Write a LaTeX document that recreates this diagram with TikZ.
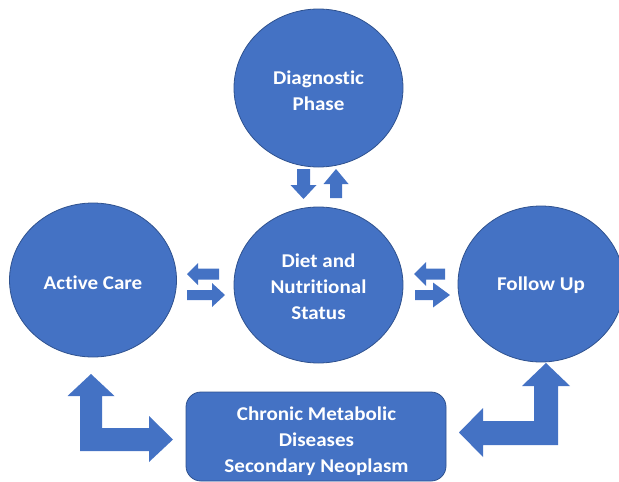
\documentclass[tikz,border=0pt]{standalone}
\usepackage{fontspec}
\setmainfont{Carlito}[FakeStretch=1.08, Ligatures=NoCommon]
\usetikzlibrary{shapes.geometric}
\definecolor{officeblue}{HTML}{4472C4}
\definecolor{officeedge}{HTML}{2F528F}
\tikzset{
  phase/.style={ellipse, fill=officeblue, draw=officeedge, line width=0.8pt,
    inner sep=0pt},
  caption/.style={font=\fontsize{19.5}{26}\selectfont\bfseries,
    text=white, align=center, inner sep=0pt},
  blockarrow/.style={fill=officeblue, draw=none},
}
\begin{document}
\begin{tikzpicture}[x=1pt, y=-1pt]
  \useasboundingbox (0,0) rectangle (619,482);
  \clip (0,0) rectangle (619,482);

  % phase circles
  \node[phase, minimum width=169pt, minimum height=158pt] (diag) at (318.5,88) {};
  \node[phase, minimum width=169pt, minimum height=156pt] (diet) at (318.5,285) {};
  \node[phase, minimum width=167pt, minimum height=154pt] (active) at (93,280) {};
  \node[phase, minimum width=166pt, minimum height=156pt] (follow) at (541,284) {};

  % long-term outcomes box
  \node[rectangle, rounded corners=15pt, fill=officeblue, draw=officeedge, line width=0.8pt,
        minimum width=260pt, minimum height=89pt, inner sep=0pt]
        (chronic) at (316,436.5) {};

  % captions
  \node[caption] (diagtext) at ([yshift=-2.5pt]diag.center) {Diagnostic\\Phase};
  \node[caption] (diettext) at ([yshift=-1.5pt]diet.center) {Diet and\\Nutritional\\Status};
  \node[caption] (activetext) at ([yshift=-2.5pt]active.center) {Active Care};
  \node[caption] (followtext) at ([yshift=-1pt]follow.center) {Follow Up};
  \node[caption] (chronictext) at ([xshift=0.5pt, yshift=-4.5pt]chronic.center)
        {Chronic Metabolic\\Diseases\\Secondary Neoplasm};

  % diagnostic <-> diet
  \fill[blockarrow] (297,169) -- (310,169) -- (310,185) -- (316.5,185) -- (303.5,199)
        -- (290.5,185) -- (297,185) -- cycle;
  \fill[blockarrow] (336,169) -- (348.5,184) -- (342,184) -- (342,198) -- (330,198)
        -- (330,184) -- (323.5,184) -- cycle;

  % diet <-> active care
  \fill[blockarrow] (187,274) -- (198,263) -- (198,268.5) -- (219,268.5) -- (219,279.5)
        -- (198,279.5) -- (198,285) -- cycle;
  \fill[blockarrow] (187,290) -- (212,290) -- (212,283) -- (225,295) -- (212,307)
        -- (212,300) -- (187,300) -- cycle;

  % diet <-> follow up
  \fill[blockarrow] (414,274) -- (426,262) -- (426,268.5) -- (445,268.5) -- (445,279.5)
        -- (426,279.5) -- (426,286) -- cycle;
  \fill[blockarrow] (415,290) -- (433,290) -- (433,282.5) -- (450,295) -- (433,307.5)
        -- (433,300) -- (415,300) -- cycle;

  % active care <-> outcomes
  \fill[blockarrow] (91,374) -- (114.5,396) -- (102,396) -- (102,428) -- (149,428)
        -- (149,416) -- (173,439.5) -- (149,462) -- (149,451) -- (80,451) -- (80,396)
        -- (67.5,396) -- cycle;

  % follow up <-> outcomes
  \fill[blockarrow] (546,363) -- (570,386) -- (558,386) -- (558,445) -- (483,445)
        -- (483,457) -- (459,432.5) -- (483,408) -- (483,421) -- (534,421) -- (534,386)
        -- (522,386) -- cycle;
\end{tikzpicture}
\end{document}
